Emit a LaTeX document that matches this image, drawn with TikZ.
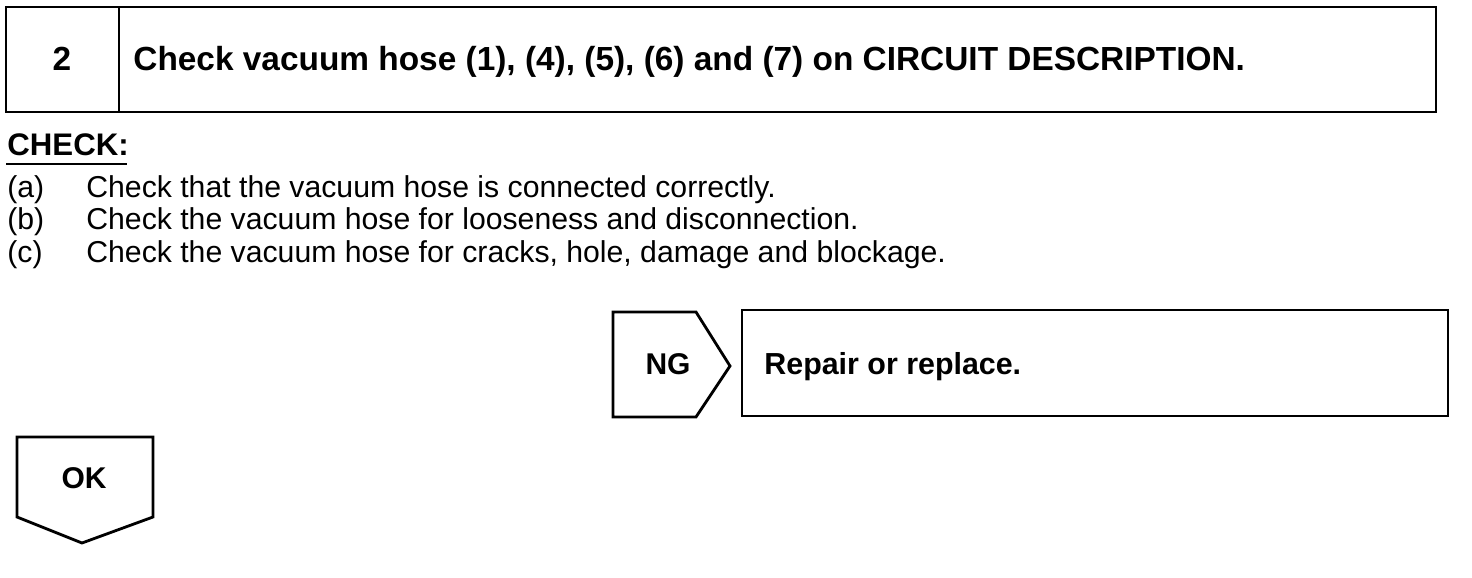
\documentclass[tikz,border=0pt]{standalone}
\usepackage{fontspec}
\setmainfont{Liberation Sans}
\begin{document}
\begin{tikzpicture}[x=0.5pt,y=-0.5pt,
  frame/.style={draw=black,line width=1.4pt,line join=miter},
  title/.style={font=\fontsize{16.7}{19}\selectfont\bfseries,inner sep=0,anchor=base west},
  body/.style={font=\fontsize{15.1}{18}\selectfont,inner sep=0,anchor=base west},
  tag/.style={font=\fontsize{15}{18}\selectfont\bfseries,inner sep=0,anchor=base}]
\useasboundingbox (0,0) rectangle (1472,578);
% header box
\draw[frame] (6,7) rectangle (1436,112);
\draw[frame] (119,7) -- (119,112);
\node[tag,font=\fontsize{16.7}{19}\selectfont\bfseries] (num) at (62,70) {2};
\node[title] (head) at (133,70) {Check vacuum hose (1), (4), (5), (6) and (7) on CIRCUIT DESCRIPTION.};
% check
\node[title,font=\fontsize{15.6}{18}\selectfont\bfseries] (chk) at (7,155) {CHECK:};
\draw[line width=1pt] (6,163.5) -- (127,163.5);
\node[body] (la) at (7,197) {(a)};
\node[body] (ta) at (86,197) {Check that the vacuum hose is connected correctly.};
\node[body] (lb) at (7,229.5) {(b)};
\node[body] (tb) at (86,229.5) {Check the vacuum hose for looseness and disconnection.};
\node[body] (lc) at (7,262) {(c)};
\node[body] (tc) at (86,262) {Check the vacuum hose for cracks, hole, damage and blockage.};
% NG
\draw[frame] (613,312) -- (696,312) -- (730,366) -- (696,417) -- (613,417) -- cycle;
\node[tag] (ng) at (668,374) {NG};
\draw[frame] (742,310) rectangle (1448,416);
\node[title,font=\fontsize{15.2}{18}\selectfont\bfseries] (rep) at (764,374) {Repair or replace.};
% OK
\draw[frame] (17,437) -- (153,437) -- (153,517) -- (82,543) -- (17,517) -- cycle;
\node[tag] (ok) at (84,488) {OK};
\end{tikzpicture}
\end{document}
